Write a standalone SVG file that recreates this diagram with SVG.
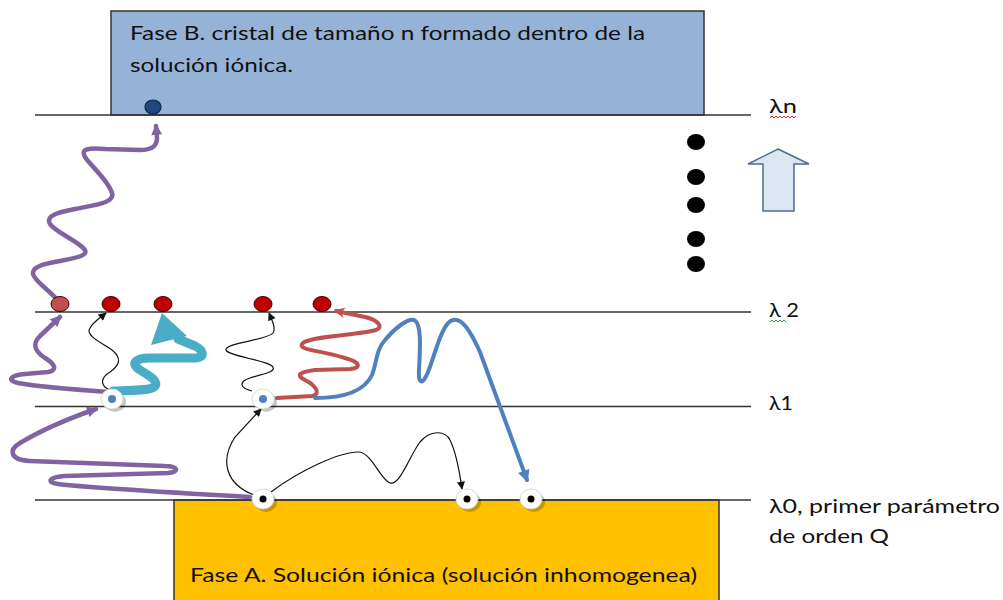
<svg xmlns="http://www.w3.org/2000/svg" width="1003" height="600" viewBox="0 0 1003 600">
<defs>
<style>
.lvl{stroke:#333;stroke-width:1.5;fill:none}
.lbl{font-family:Lato,"Liberation Sans",sans-serif;font-size:20px;fill:#111}
.btxt{font-family:Lato,"Liberation Sans",sans-serif;font-size:19px;fill:#111}
.blk{stroke:#111;stroke-width:1.2;fill:none}
.pur{stroke:#8064A2;stroke-width:4.5;fill:none;stroke-linecap:round;stroke-linejoin:round}
.red{stroke:#C0504D;stroke-width:4;fill:none;stroke-linecap:round;stroke-linejoin:round}
.blu{stroke:#4F81BD;stroke-width:4;fill:none;stroke-linecap:round;stroke-linejoin:round}
.tea{stroke:#4BACC6;stroke-width:9;fill:none;stroke-linecap:round;stroke-linejoin:round}
.rdot{fill:#C00000;stroke:#3a0000;stroke-width:1}
.bdot{fill:#000}
.shadow{fill:#000;opacity:0.22}
.wnode{fill:#fff;stroke:#d8d8d8;stroke-width:1}
</style>
<marker id="mBlk" markerUnits="userSpaceOnUse" markerWidth="10" markerHeight="8" viewBox="0 0 10 10" refX="9" refY="5" orient="auto"><path d="M0,0 L10,5 L0,10 z" fill="#111"/></marker>
<marker id="mPur" markerUnits="userSpaceOnUse" markerWidth="12" markerHeight="11" viewBox="0 0 10 10" refX="8" refY="5" orient="auto"><path d="M0,0 L10,5 L0,10 z" fill="#8064A2"/></marker>
<marker id="mRed" markerUnits="userSpaceOnUse" markerWidth="12" markerHeight="11" viewBox="0 0 10 10" refX="8" refY="5" orient="auto"><path d="M0,0 L10,5 L0,10 L3,5 z" fill="#C0504D"/></marker>
<marker id="mBlu" markerUnits="userSpaceOnUse" markerWidth="13" markerHeight="12" viewBox="0 0 10 10" refX="8" refY="5" orient="auto"><path d="M0,0 L10,5 L0,10 z" fill="#4F81BD"/></marker>
</defs>
<rect width="1003" height="600" fill="#fff"/>

<g id="faseB">
<rect x="111" y="11" width="593" height="104" fill="#95B3D7" stroke="#333" stroke-width="1.5"/>
<text class="btxt" x="130" y="40" textLength="515" lengthAdjust="spacingAndGlyphs">Fase B. cristal de tamaño n formado dentro de la</text>
<text class="btxt" x="130" y="72" textLength="163" lengthAdjust="spacingAndGlyphs">solución iónica.</text>
</g>
<g id="faseA">
<rect x="174" y="500" width="545" height="110" fill="#FFC000" stroke="#333" stroke-width="1.5"/>
<text class="btxt" x="190" y="582" textLength="507" lengthAdjust="spacingAndGlyphs">Fase A. Solución iónica (solución inhomogenea)</text>
</g>

<g id="levels">
<line class="lvl" x1="35" y1="115" x2="751" y2="115"/>
<line class="lvl" x1="35" y1="312" x2="751" y2="312"/>
<line class="lvl" x1="35" y1="406.5" x2="751" y2="406.5"/>
<line class="lvl" x1="35" y1="500" x2="751" y2="500"/>
</g>

<g id="labels">
<text class="lbl" x="769" y="113" textLength="28" lengthAdjust="spacingAndGlyphs">λn</text>
<path d="M770,118 l2,-2 l2,2 l2,-2 l2,2 l2,-2 l2,2 l2,-2 l2,2 l2,-2 l2,2 l2,-2 l2,2 l2,-2" fill="none" stroke="#e03030" stroke-width="1"/>
<text class="lbl" x="769" y="317" textLength="30" lengthAdjust="spacingAndGlyphs">λ 2</text>
<path d="M770,322 l2,-2 l2,2 l2,-2 l2,2 l2,-2 l2,2 l2,-2 l2,2" fill="none" stroke="#30a030" stroke-width="1"/>
<text class="lbl" x="769" y="410" textLength="24" lengthAdjust="spacingAndGlyphs">λ1</text>
<text class="lbl" x="769" y="513" textLength="231" lengthAdjust="spacingAndGlyphs">λ0, primer parámetro</text>
<text class="lbl" x="769" y="543" textLength="120" lengthAdjust="spacingAndGlyphs">de orden Q</text>
</g>

<g id="ellipsis">
<ellipse cx="696" cy="142" rx="9" ry="8"/>
<ellipse cx="696" cy="177" rx="9" ry="8"/>
<ellipse cx="696" cy="205" rx="9" ry="8"/>
<ellipse cx="696" cy="239" rx="9" ry="8"/>
<ellipse cx="696" cy="264" rx="9" ry="8"/>
</g>

<g id="upArrow">
<path d="M778,149 L809,164 L794,164 L794,211 L763,211 L763,164 L748,164 Z" fill="#DCE6F2" stroke="#4F6B8F" stroke-width="1.5" stroke-linejoin="miter"/>
</g>

<g id="connectors">
<path class="pur" marker-end="url(#mPur)" d="M250,497 C180,493 80,487 58,484 C45,482 50,477 65,476 L168,473 C180,472 178,466 165,466 L30,461 C10,460 8,450 20,443 C45,428 70,418 96,409"/>
<path class="pur" marker-end="url(#mPur)" d="M108,392 C80,390 40,387 18,383 C5,380 12,375 25,374 L48,372 C58,370 55,364 45,358 C33,350 33,343 40,336 L60,317"/>
<path class="pur" marker-end="url(#mPur)" d="M60,303 C50,290 35,282 33,274 C32,266 45,264 60,261 C75,258 88,256 85,250 C80,242 55,232 50,224 C45,215 60,212 75,209 C95,205 115,203 112,193 C108,180 90,165 85,157 C80,148 90,148 105,149 L140,150 C152,150 157,146 157,138 L156,126"/>
<path class="blk" marker-end="url(#mBlk)" d="M110,390 C100,386 100,378 110,372 C120,365 122,358 112,350 C100,342 85,335 90,328 C93,322 100,318 106,313"/>
<path class="blk" marker-end="url(#mBlk)" d="M252,391 C240,388 238,382 250,378 C262,374 278,372 272,366 C265,360 228,356 226,350 C224,343 268,340 273,333 C276,328 272,320 269,313"/>
<path class="blk" marker-end="url(#mBlk)" d="M254,495 C225,484 220,460 235,437 L261,409"/>
<path class="blk" marker-end="url(#mBlk)" d="M271,492 C300,470 340,452 358,452 C372,452 380,480 390,483 C400,486 410,455 420,442 C430,430 445,430 450,440 C456,452 460,475 462,489"/>
<path class="red" marker-end="url(#mRed)" d="M277,398 L312,396 C322,394 315,385 305,380 C295,375 300,372 315,370 L350,369 C362,368 360,362 345,358 C320,350 295,350 303,343 C310,336 360,335 376,330 C384,327 378,320 365,317 L336,311"/>
<path class="blu" marker-end="url(#mBlu)" d="M315,398 C345,398 365,390 372,375 C377,362 376,350 385,340 C395,328 408,318 414,320 C422,323 420,350 419,370 C418,385 423,385 428,372 C435,355 442,322 453,320 C462,318 470,330 480,352 L527,480"/>
<path class="tea" d="M113,391 C130,390 148,391 154,387 C160,382 150,376 140,370 C130,364 135,358 150,358 L196,358 C206,357 203,350 195,346 L178,339"/>
<polygon points="162,313 187,336 151,345" fill="#4BACC6"/>
</g>

<g id="crystal">
<ellipse cx="153" cy="107" rx="8" ry="7" fill="#1F497D" stroke="#0f2540" stroke-width="1.2"/>
</g>

<g id="redNodes">
<ellipse class="rdot" cx="60" cy="304" rx="9" ry="7.5" style="fill:#C0504D"/>
<ellipse class="rdot" cx="111" cy="304" rx="9" ry="7.5"/>
<ellipse class="rdot" cx="163" cy="304" rx="9" ry="7.5"/>
<ellipse class="rdot" cx="263" cy="304" rx="9" ry="7.5"/>
<ellipse class="rdot" cx="322" cy="304" rx="9" ry="7.5"/>
</g>

<g id="nodeL1a"><ellipse class="shadow" cx="115" cy="402" rx="11" ry="10"/><ellipse class="wnode" cx="112" cy="399" rx="11" ry="10"/><circle cx="112" cy="399" r="4" fill="#4F81BD"/></g>
<g id="nodeL1b"><ellipse class="shadow" cx="266" cy="402" rx="11" ry="10"/><ellipse class="wnode" cx="263" cy="399" rx="11" ry="10"/><circle cx="263" cy="399" r="4" fill="#4F81BD"/></g>
<g id="nodeL0a"><ellipse class="shadow" cx="266" cy="502" rx="11" ry="10"/><ellipse class="wnode" cx="263" cy="499" rx="11" ry="10"/><circle class="bdot" cx="263" cy="499" r="3.5"/></g>
<g id="nodeL0b"><ellipse class="shadow" cx="470" cy="502" rx="11" ry="10"/><ellipse class="wnode" cx="467" cy="499" rx="11" ry="10"/><circle class="bdot" cx="467" cy="499" r="3.5"/></g>
<g id="nodeL0c"><ellipse class="shadow" cx="534" cy="502" rx="11" ry="10"/><ellipse class="wnode" cx="531" cy="499" rx="11" ry="10"/><circle class="bdot" cx="531" cy="499" r="3.5"/></g>
</svg>
